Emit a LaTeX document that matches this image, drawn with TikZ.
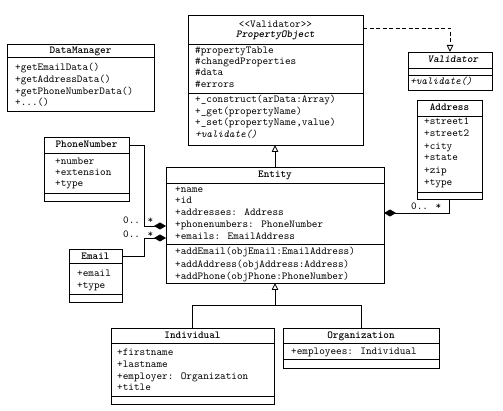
\documentclass[tikz,border=0pt]{standalone}
\usetikzlibrary{arrows.meta}
\newcommand{\umlfont}{\ttfamily\fontsize{10.7}{12}\selectfont}
\tikzset{
  classbox/.style={draw, line width=0.8pt, inner sep=0pt, outer sep=0pt, fill=white, anchor=north west},
  sepline/.style={line width=0.8pt},
  txt/.style={inner sep=0pt, anchor=mid west, font=\umlfont},
  itxt/.style={txt, font=\umlfont\itshape},
  hdr/.style={inner sep=0pt, anchor=mid, font=\umlfont\bfseries},
  ihdr/.style={hdr, font=\umlfont\bfseries\itshape},
  stereo/.style={hdr, font=\umlfont},
  lbl/.style={inner sep=0pt, anchor=mid west, font=\umlfont},
  inherit/.style={line width=0.8pt, -{Triangle[open, length=7pt, width=6.5pt]}},
  realize/.style={line width=0.8pt, dash pattern=on 4pt off 2.5pt, -{Triangle[open, length=7pt, width=6.5pt]}},
  compose/.style={line width=0.8pt, -{Diamond[length=12pt, width=7pt]}}
}
\begin{document}
\begin{tikzpicture}[x=1pt, y=-1pt]
\useasboundingbox (0,0) rectangle (503,411);

% DataManager
\node[classbox, minimum width=147pt, minimum height=67pt] (dm) at (7,44) {};
\draw[sepline] (7,57) -- (154,57);
\node[hdr] (dmh) at (80.5,51) {DataManager};
\node[txt] (dm1) at (15,68) {+getEmailData()};
\node[txt] (dm2) at (15,80) {+getAddressData()};
\node[txt] (dm3) at (15,92) {+getPhoneNumberData()};
\node[txt] (dm4) at (15,103) {+...()};

% PropertyObject
\node[classbox, minimum width=175pt, minimum height=130pt] (po) at (188,15) {};
\draw[sepline] (188,44) -- (363,44);
\draw[sepline] (188,93) -- (363,93);
\node[stereo] (pos) at (275.5,25) {<<Validator>>};
\node[ihdr] (poh) at (275.5,35) {PropertyObject};
\node[txt] (po1) at (195,51) {\#propertyTable};
\node[txt] (po2) at (195,62) {\#changedProperties};
\node[txt] (po3) at (195,73) {\#data};
\node[txt] (po4) at (195,85) {\#errors};
\node[txt] (po5) at (195,100) {+\_construct(arData:Array)};
\node[txt] (po6) at (195,112) {+\_get(propertyName)};
\node[txt] (po7) at (195,123) {+\_set(propertyName,value)};
\node[itxt] (po8) at (195,135) {+validate()};

% Validator
\node[classbox, minimum width=84pt, minimum height=38pt] (val) at (408,52) {};
\draw[sepline] (408,68) -- (492,68);
\draw[sepline] (408,75) -- (492,75);
\node[ihdr] (valh) at (453,60) {Validator};
\node[itxt] (val1) at (410,82) {+validate()};

% Address
\node[classbox, minimum width=65pt, minimum height=99pt] (addr) at (417,100) {};
\draw[sepline] (417,116) -- (482,116);
\draw[sepline] (417,192) -- (482,192);
\node[hdr] (addrh) at (449.5,108) {Address};
\node[txt] (ad1) at (424,122) {+street1};
\node[txt] (ad2) at (424,134) {+street2};
\node[txt] (ad3) at (424,147) {+city};
\node[txt] (ad4) at (424,158) {+state};
\node[txt] (ad5) at (424,171) {+zip};
\node[txt] (ad6) at (424,183) {+type};

% PhoneNumber
\node[classbox, minimum width=85pt, minimum height=64pt] (pn) at (44,137) {};
\draw[sepline] (44,153) -- (129,153);
\draw[sepline] (44,193) -- (129,193);
\node[hdr] (pnh) at (86.5,145) {PhoneNumber};
\node[txt] (pn1) at (55,162) {+number};
\node[txt] (pn2) at (55,173) {+extension};
\node[txt] (pn3) at (55,184) {+type};

% Email
\node[classbox, minimum width=53pt, minimum height=53pt] (em) at (69,249) {};
\draw[sepline] (69,263) -- (122,263);
\draw[sepline] (69,294) -- (122,294);
\node[hdr] (emh) at (95.5,257) {Email};
\node[txt] (em1) at (77,274) {+email};
\node[txt] (em2) at (77,286) {+type};

% Entity
\node[classbox, minimum width=218pt, minimum height=116pt] (ent) at (166,167) {};
\draw[sepline] (166,183) -- (384,183);
\draw[sepline] (166,244) -- (384,244);
\node[hdr] (enth) at (275,175) {Entity};
\node[txt] (en1) at (175,190) {+name};
\node[txt] (en2) at (175,201) {+id};
\node[txt] (en3) at (175,213) {+addresses: Address};
\node[txt] (en4) at (175,225) {+phonenumbers: PhoneNumber};
\node[txt] (en5) at (175,237) {+emails: EmailAddress};
\node[txt] (en6) at (175,252) {+addEmail(objEmail:EmailAddress)};
\node[txt] (en7) at (175,265) {+addAddress(objAddress:Address)};
\node[txt] (en8) at (175,277) {+addPhone(objPhone:PhoneNumber)};

% Individual
\node[classbox, minimum width=163pt, minimum height=76pt] (ind) at (111,328) {};
\draw[sepline] (111,343) -- (274,343);
\draw[sepline] (111,396) -- (274,396);
\node[hdr] (indh) at (192.5,336) {Individual};
\node[txt] (in1) at (117,353) {+firstname};
\node[txt] (in2) at (117,365) {+lastname};
\node[txt] (in3) at (117,377) {+employer: Organization};
\node[txt] (in4) at (117,388) {+title};

% Organization
\node[classbox, minimum width=156pt, minimum height=40pt] (org) at (283,328) {};
\draw[sepline] (283,343) -- (439,343);
\draw[sepline] (283,359) -- (439,359);
\node[hdr] (orgh) at (361,336) {Organization};
\node[txt] (or1) at (291,352) {+employees: Individual};

% connectors
\coordinate (poR) at (363,28);
\draw[realize] (poR) -| (val.north);

\draw[inherit] (ent.north) -- (ent.north |- po.south);

\coordinate (junc) at (275,305);
\draw[sepline] (ind.north) -- ++(0,-23) -| (org.north);
\draw[inherit] (junc) -- (ent.south);

\coordinate (entA) at (384,213);
\draw[compose] (addr.south) |- (entA);
\node[lbl] (mA) at (411,207) {0.. *};

\coordinate (pnR) at (129,145);
\coordinate (entP) at (166,226);
\draw[compose] (pnR) -- ++(15,0) |- (entP);
\node[lbl] (mP) at (123,221) {0.. *};

\coordinate (emR) at (122,256);
\coordinate (entE) at (166,238);
\draw[compose] (emR) -- ++(22,0) |- (entE);
\node[lbl] (mE) at (123,235) {0.. *};
\end{tikzpicture}
\end{document}
